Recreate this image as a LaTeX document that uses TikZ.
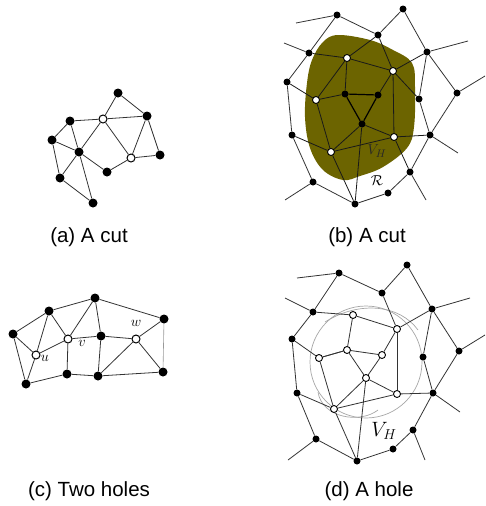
\documentclass[tikz,border=0pt]{standalone}
\usepackage{fontspec}
\setmainfont{Liberation Sans}
\begin{document}
\begin{tikzpicture}[x=1pt,y=-1pt,
  bd/.style={circle,fill=black,inner sep=0pt,minimum size=9pt},
  bw/.style={circle,draw=black,fill=white,line width=1pt,inner sep=0pt,minimum size=8pt},
  sd/.style={circle,fill=black,inner sep=0pt,minimum size=7pt},
  wd/.style={circle,draw=black,fill=white,line width=0.9pt,inner sep=0pt,minimum size=7pt},
  ed/.style={draw=black!80,line width=0.8pt},
  ink/.style={draw=black!90,line width=0.8pt},
  captext/.style={font=\fontsize{20.5}{22}\selectfont,inner sep=0pt},
  lab/.style={inner sep=0pt,font=\fontsize{15}{16}\selectfont}]
\useasboundingbox (0,0) rectangle (486,506);
\definecolor{olivefill}{RGB}{108,100,0}

% ---------------- (a) ----------------
\node[bd] (a1) at (118,93) {};
\node[bd] (a2) at (147,116) {};
\node[bw] (a3) at (103,119) {};
\node[bd] (a4) at (70,121) {};
\node[bd] (a5) at (52,140) {};
\node[bd] (a6) at (79,152) {};
\node[bw] (a7) at (131,158) {};
\node[bd] (a8) at (160,155) {};
\node[bd] (a9) at (107,172) {};
\node[bd] (a10) at (60,178) {};
\node[bd] (a11) at (93,203) {};
\foreach \u/\v in {a1/a2,a1/a3,a3/a4,a3/a2,a4/a5,a4/a6,a5/a6,a5/a10,a3/a6,a3/a7,a6/a9,a6/a10,a6/a11,a10/a11,a7/a9,a7/a8,a2/a8,a2/a7}
  \draw[ed] (\u) -- (\v);
\node[captext] (capa) at (89,237) {(a) A cut};

% ---------------- (b) ----------------
\fill[olivefill] plot[smooth cycle,tension=0.6] coordinates {(338,35) (370,40) (393,50) (412,63) (415,87) (414,127) (407,148) (383,167) (360,176) (343,180) (323,170) (310,148) (305,117) (307,83) (312,60) (323,42)};
\node[sd] (b1) at (337,15) {};
\node[sd] (b2) at (403,9) {};
\node[sd] (b3) at (378,35) {};
\node[sd] (b4) at (309,53) {};
\node[sd] (b5) at (427,52) {};
\node[sd] (b6) at (287,82) {};
\node[sd] (b7) at (419,99) {};
\node[sd] (b8) at (457,93) {};
\node[sd] (b9) at (292,135) {};
\node[sd] (b10) at (430,135) {};
\node[sd] (b11) at (410,172) {};
\node[sd] (b12) at (313,182) {};
\node[sd] (b13) at (388,193) {};
\node[sd] (b14) at (355,204) {};
\node[sd] (b15) at (345,94) {};
\node[sd] (b16) at (378,95) {};
\node[sd] (b17) at (362,124) {};
\node[wd] (w1) at (347,58) {};
\node[wd] (w2) at (393,71) {};
\node[wd] (w3) at (316,100) {};
\node[wd] (w4) at (394,137) {};
\node[wd] (w5) at (331,152) {};
\coordinate (bx1) at (296,23);
\coordinate (bx2) at (284,43);
\coordinate (bx3) at (468,41);
\coordinate (bx4) at (485,76);
\coordinate (bx5) at (458,153);
\coordinate (bx6) at (426,200);
\coordinate (bx7) at (285,200);
\foreach \u/\v in {b1/b3,b3/b2,b2/b5,b1/b4,b4/b6,b6/b9,b9/b12,b12/b14,b14/b13,b13/b11,b11/b10,b10/b7,b7/b5,b5/b8,b8/b10,
  b1/bx1,b4/bx2,b5/bx3,b8/bx4,b10/bx5,b11/bx6,b12/bx7}
  \draw[ed] (\u) -- (\v);
\foreach \u/\v in {w1/b3,w1/b4,w2/b5,w2/b7,w3/b6,w4/b10,w5/b9,w5/b14,b17/b14,w4/b11,
  w1/w2,w3/w5,w2/w4,w5/w4,b15/w1,b16/w2,b15/w3,b17/w4,b17/w5,w1/w3,w2/b3}
  \draw[ink] (\u) -- (\v);
\foreach \u/\v in {b15/b16,b16/b17,b17/b15}
  \draw[black,line width=1.2pt] (\u) -- (\v);
\node[lab,text=black!85] (vhb) at (377,151) {$V_H$};
\node[lab] (rb) at (377,181) {$\mathcal{R}$};
\node[captext] (capb) at (367,237) {(b) A cut};

% ---------------- (c) ----------------
\node[bd] (c1) at (95,298) {};
\node[bd] (c2) at (49,311) {};
\node[bd] (c3) at (13,334) {};
\node[bd] (c4) at (164,319) {};
\node[bw] (c5) at (68,339) {};
\node[bd] (c6) at (101,336) {};
\node[bw] (c7) at (136,339) {};
\node[bw] (c8) at (36,355) {};
\node[bd] (c9) at (67,374) {};
\node[bd] (c10) at (98,376) {};
\node[bd] (c11) at (163,372) {};
\node[bd] (c12) at (26,384) {};
\foreach \u/\v in {c2/c1,c1/c4,c2/c3,c2/c8,c2/c5,c1/c5,c1/c6,c3/c8,c3/c12,c8/c5,c8/c12,c5/c6,c6/c7,c7/c4,c7/c11,c7/c10,c6/c10,c5/c9,c9/c10,c10/c11,c9/c12}
  \draw[ed] (\u) -- (\v);
\draw[black!40,line width=0.6pt] (c4) -- (c11);
\node[lab] (lu) at (45,358) {$u$};
\node[lab] (lv) at (82,343) {$v$};
\node[lab] (lw) at (136,323) {$w$};
\node[captext] (capc) at (89,491) {(c) Two holes};

% ---------------- (d) ----------------
\draw[black!35,line width=0.7pt] (366,362) circle (56);
\draw[black!35,line width=0.7pt] (318,392) .. controls (322,418) and (360,424) .. (378,410);
\draw[black!35,line width=0.7pt] (325,322) .. controls (360,300) and (400,305) .. (418,330);
\node[sd] (d1) at (339,273) {};
\node[sd] (d2) at (407,265) {};
\node[sd] (d3) at (382,293) {};
\node[sd] (d4) at (313,312) {};
\node[sd] (d5) at (432,309) {};
\node[sd] (d6) at (292,339) {};
\node[sd] (d7) at (423,357) {};
\node[sd] (d8) at (459,351) {};
\node[sd] (d9) at (297,393) {};
\node[sd] (d10) at (433,393) {};
\node[sd] (d11) at (413,430) {};
\node[sd] (d12) at (316,439) {};
\node[sd] (d13) at (393,449) {};
\node[sd] (d14) at (357,461) {};
\node[wd] (e1) at (353,315) {};
\node[wd] (e2) at (397,329) {};
\node[wd] (e3) at (319,358) {};
\node[wd] (e4) at (347,350) {};
\node[wd] (e5) at (382,355) {};
\node[wd] (e6) at (366,378) {};
\node[wd] (e7) at (397,394) {};
\node[wd] (e8) at (334,409) {};
\coordinate (dx1) at (297,278);
\coordinate (dx2) at (285,298);
\coordinate (dx3) at (470,298);
\coordinate (dx4) at (485,335);
\coordinate (dx5) at (460,412);
\coordinate (dx6) at (425,460);
\coordinate (dx7) at (288,460);
\foreach \u/\v in {d1/d3,d3/d2,d2/d5,d1/d4,d4/d6,d6/d9,d9/d12,d12/d14,d14/d13,d13/d11,d11/d10,d10/d7,d7/d5,d5/d8,d8/d10,
  d1/dx1,d4/dx2,d5/dx3,d8/dx4,d10/dx5,d11/dx6,d12/dx7}
  \draw[ed] (\u) -- (\v);
\foreach \u/\v in {d4/e1,e1/e2,d5/e2,e1/e4,e4/e3,e4/e5,e4/e6,e5/e6,e2/e5,e2/e7,e3/e8,e6/e7,e6/e8,e8/e7,e7/d10,e3/d6,e8/d9,e8/d14,e6/d14,e3/e4,d3/e2}
  \draw[ed] (\u) -- (\v);
\node[lab,font=\fontsize{20}{21}\selectfont] (vhd) at (384,431) {$V_H$};
\node[captext] (capd) at (369,491) {(d) A hole};
\end{tikzpicture}
\end{document}
